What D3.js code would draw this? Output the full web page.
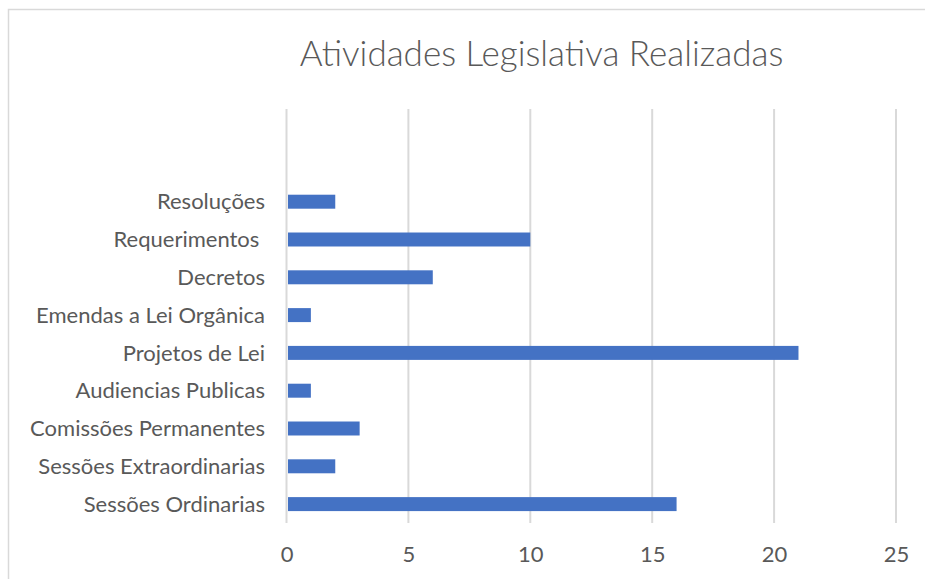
<!DOCTYPE html>
<html>
<head>
<meta charset="utf-8">
<script src="https://cdn.jsdelivr.net/npm/d3@7"></script>
<style>
  html, body { margin: 0; padding: 0; background: #fff; }
  svg { display: block; }
</style>
</head>
<body>
<svg id="chart" width="925" height="579"></svg>
<script>
const title = "Atividades Legislativa Realizadas";
const categories = [
  "Sessões Ordinarias",
  "Sessões Extraordinarias",
  "Comissões Permanentes",
  "Audiencias Publicas",
  "Projetos de Lei",
  "Emendas a Lei Orgânica",
  "Decretos",
  "Requerimentos ",
  "Resoluções"
];
const values = [16, 2, 3, 1, 21, 1, 6, 10, 2];
const xTicks = [0, 5, 10, 15, 20, 25];

const svg = d3.select("#chart");
const W = 925, H = 579;
const font = "Lato, 'Open Sans', sans-serif";

svg.append("rect").attr("width", W).attr("height", H).attr("fill", "#fff");
svg.append("rect")
  .attr("x", 8.5).attr("y", 9.5).attr("width", W + 10).attr("height", H + 10)
  .attr("fill", "none").attr("stroke", "#d9d9d9").attr("stroke-width", 1.5);

const x = d3.scaleLinear().domain([0, 25]).range([286.5, 896]);
const plotTop = 109, plotBottom = 523;
const y = d3.scaleBand()
  .domain(categories.slice().reverse())
  .range([plotBottom - 9 * 37.8, plotBottom])
  .paddingInner(0.63).paddingOuter(0.315);

// gridlines
svg.append("g").selectAll("line").data(xTicks).join("line")
  .attr("x1", d => x(d)).attr("x2", d => x(d))
  .attr("y1", plotTop).attr("y2", plotBottom)
  .attr("stroke", "#d9d9d9").attr("stroke-width", 2);

// bars
svg.append("g").selectAll("rect").data(categories).join("rect")
  .attr("x", x(0) + 1.5)
  .attr("y", d => y(d))
  .attr("width", (d, i) => x(values[i]) - x(0) - 1.5)
  .attr("height", y.bandwidth())
  .attr("fill", "#4472C4");

// x axis labels
const xAxis = d3.axisBottom(x).tickValues(xTicks).tickSize(0).tickPadding(0);
const gx = svg.append("g").attr("transform", `translate(0, 546)`).call(xAxis);
gx.select(".domain").remove();
gx.selectAll("text")
  .attr("font-family", font).attr("font-size", 22).attr("fill", "#595959")
  .attr("dy", "0.71em").attr("y", 0);

// y axis labels
const yAxis = d3.axisLeft(y).tickSize(0).tickPadding(0);
const gy = svg.append("g").attr("transform", `translate(265, 0)`).call(yAxis);
gy.select(".domain").remove();
gy.selectAll("text")
  .attr("font-family", font).attr("font-size", 22).attr("fill", "#595959")
  .attr("dy", "0.35em").style("white-space", "pre");

// title
svg.append("text")
  .attr("x", 541.5).attr("y", 66)
  .attr("text-anchor", "middle")
  .attr("font-family", font).attr("font-size", 35).attr("font-weight", 300)
  .attr("fill", "#595959")
  .text(title);
</script>
</body>
</html>
